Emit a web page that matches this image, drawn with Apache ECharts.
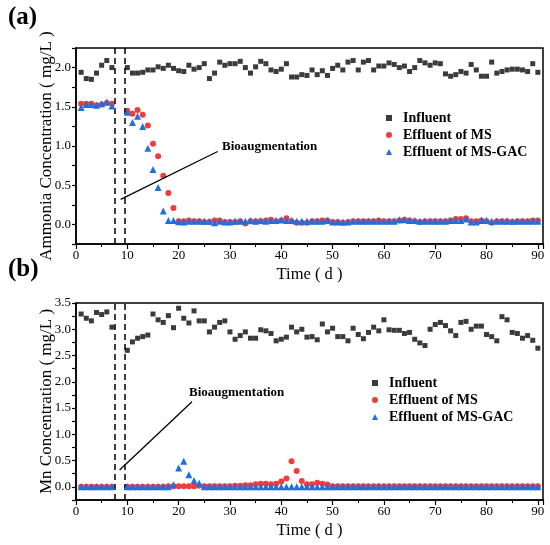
<!DOCTYPE html>
<html><head><meta charset="utf-8">
<script src="https://cdn.jsdelivr.net/npm/echarts@6/dist/echarts.min.js"></script>
<style>html,body{margin:0;padding:0;background:#fff}#c{width:550px;height:545px}</style>
</head><body><div id="c"></div>
<script>
var days = [1,2,3,4,5,6,7,10,11,12,13,14,15,16,17,18,19,20,21,22,23,24,25,26,27,28,29,30,31,32,33,34,35,36,37,38,39,40,41,42,43,44,45,46,47,48,49,50,51,52,53,54,55,56,57,58,59,60,61,62,63,64,65,66,67,68,69,70,71,72,73,74,75,76,77,78,79,80,81,82,83,84,85,86,87,88,89,90];

var nh4Influent = [1.94,1.86,1.85,1.93,2.03,2.09,2.00,
 2.00,1.93,1.93,1.94,1.97,1.97,2.01,1.99,2.03,1.99,1.96,1.95,2.03,1.98,2.00,2.05,1.86,1.93,2.07,2.03,2.05,2.05,2.08,2.00,1.93,2.01,2.08,2.05,1.97,
 1.95,1.98,2.05,1.88,1.88,1.91,1.90,1.97,1.91,1.96,1.90,1.99,2.03,1.97,2.07,2.09,1.97,2.07,2.09,1.97,2.02,2.02,2.06,2.04,2.00,2.02,1.95,2.00,2.09,2.06,2.03,2.06,2.05,1.92,1.89,1.91,1.95,1.93,2.04,1.97,1.89,1.89,2.07,1.93,1.95,1.97,1.98,1.98,1.97,1.95,2.05,1.94];
var nh4MS = [1.54,1.54,1.54,1.52,1.53,1.55,1.54,
 1.45,1.41,1.46,1.40,1.26,1.03,0.87,0.62,0.40,0.21,0.04,
 0.04,0.05,0.04,0.04,0.03,0.03,0.05,0.05,0.03,0.03,0.03,0.04,0.01,0.04,0.04,0.04,0.05,0.06,0.04,0.05,0.08,0.04,0.02,0.02,0.02,0.04,0.04,0.05,0.05,0.03,0.03,0.02,0.03,0.04,0.04,0.04,0.04,0.04,0.05,0.04,0.04,0.04,0.05,0.06,0.05,0.04,0.03,0.04,0.04,0.04,0.04,0.04,0.05,0.07,0.07,0.08,0.04,0.04,0.05,0.04,0.02,0.04,0.04,0.04,0.03,0.04,0.04,0.04,0.05,0.05];
var nh4GAC = [1.49,1.53,1.53,1.52,1.54,1.56,1.51,
 1.43,1.30,1.38,1.25,0.97,0.70,0.47,0.17,0.05,0.05,0.035,
 0.03,0.04,0.04,0.04,0.04,0.04,0.02,0.04,0.03,0.03,0.04,0.04,0.04,0.05,0.04,0.05,0.04,0.05,0.05,0.06,0.05,0.05,0.04,0.04,0.04,0.04,0.04,0.04,0.05,0.03,0.03,0.03,0.03,0.04,0.04,0.04,0.04,0.04,0.04,0.04,0.04,0.04,0.06,0.06,0.05,0.05,0.04,0.04,0.04,0.04,0.04,0.04,0.05,0.05,0.05,0.07,0.03,0.03,0.05,0.05,0.04,0.04,0.04,0.04,0.04,0.04,0.04,0.04,0.04,0.04];

var mnInfluent = [3.29,3.21,3.16,3.32,3.28,3.33,3.04,
 2.60,2.76,2.83,2.86,2.89,3.29,3.18,3.13,3.26,3.03,3.40,3.21,3.12,3.35,3.16,3.16,2.95,3.04,3.13,3.16,2.95,2.81,2.88,2.95,2.83,2.83,2.99,2.97,2.92,
 2.78,2.81,2.85,3.04,2.95,3.00,2.85,2.86,2.80,3.10,2.95,3.02,2.86,2.86,2.78,3.02,2.90,2.82,2.94,3.04,2.97,3.18,2.99,2.98,2.98,2.92,2.94,2.81,2.74,2.69,3.00,3.09,3.13,3.07,2.97,2.88,3.13,3.15,3.00,3.06,3.06,2.90,2.86,2.78,3.24,3.18,2.94,2.92,2.83,2.88,2.79,2.64];
var mnMS = [0,0,0,0,0,0,0,
 0,0,0,0,0,0,0,0,
 0.01,0.01,0.01,0.01,0.01,0.01,0.02,
 0.01,0.01,0.01,0.01,0.01,0.01,0.02,0.02,0.03,
 0.03,
 0.05,0.06,0.06,0.05,0.06,
 0.10,0.16,0.49,0.30,0.11,0.05,0.05,0.08,0.06,0.045,
 0.01,0.01,0.01,0.01,0.01,0.01,0.01,0.01,0.01,0.01,0.01,0.01,0.01,0.01,0.01,0.01,0.01,0.01,0.01,0.01,0.01,0.01,0.01,0.01,0.01,0.01,0.01,0.01,0.01,0.01,0.01,0.01,0.01,0.01,0.01,0.01,0.01,0.01,0.01,0.01,0.01];
var mnGAC = [0,0,0,0,0,0,0,
 0,0,0,0,0,0,0,0,0,
 0.04,0.36,0.49,0.23,0.12,0.07,
 0,0,0,0,0,0,0,0,0,0,0,0,0,0,0,0,0,0,0,0,0,0,0,0,0,0,0,0,0,0,0,0,0,0,0,0,0,0,0,0,0,0,0,0,0,0,0,0,0,0,0,0,0,0,0,0,0,0,0,0,0,0,0,0,0,0];

var xTicks = [0,10,20,30,40,50,60,70,80,90];
var nh4Ticks = [0.0,0.5,1.0,1.5,2.0];
var mnTicks = [0.0,0.5,1.0,1.5,2.0,2.5,3.0,3.5];
var names = ['Influent','Effluent of MS','Effluent of MS-GAC'];
var dashDays = [7.5, 9.5];

function pairs(v){ return days.map(function(d,i){ return [d, v[i]]; }); }

var FONT = 'Liberation Serif';
var colors = ['#3b3b3b','#f23c3c','#1f6fe0'];
var symbols = ['rect','circle','triangle'];
var sizes = [5,6,7];

function xAxisDef(gi){
  return {type:'value', gridIndex:gi, min:0, max:91, interval:10,
    name:'Time ( d )', nameLocation:'middle', nameGap:22, nameMoveOverlap:false,
    nameTextStyle:{fontFamily:FONT, fontSize:16.5, color:'#000'},
    axisLine:{show:true, onZero:false, lineStyle:{color:'#000', width:1.5}},
    axisTick:{show:true, length:5, lineStyle:{color:'#000', width:1.2}},
    minorTick:{show:true, splitNumber:2, length:3, lineStyle:{color:'#000', width:1}},
    axisLabel:{fontFamily:FONT, fontSize:13, color:'#000', margin:5,
      formatter:function(v){ return xTicks.indexOf(v)>=0 ? String(v) : ''; }},
    splitLine:{show:false}};
}
function yAxisDef(gi, max, ticks, name){
  return {type:'value', gridIndex:gi, min:-0.25, max:max, interval:0.25,
    name:name, nameLocation:'middle', nameGap:21, nameMoveOverlap:false,
    nameTextStyle:{fontFamily:FONT, fontSize:17, color:'#000'},
    axisLine:{show:true, onZero:false, lineStyle:{color:'#000', width:1.5}},
    axisTick:{show:true, length:4, lineStyle:{color:'#000', width:1.2}},
    axisLabel:{fontFamily:FONT, fontSize:13, color:'#000', margin:5,
      formatter:function(v){
        for (var i=0;i<ticks.length;i++){ if (Math.abs(ticks[i]-v)<1e-6) return v.toFixed(1); }
        return ''; }},
    splitLine:{show:false}};
}

var panels = [[nh4Influent,nh4MS,nh4GAC],[mnInfluent,mnMS,mnGAC]];
var annot = [[[8.7,0.32],[27.6,0.93]],[[8.5,0.32],[22.6,1.62]]];
var series = [];
panels.forEach(function(p, gi){
  p.forEach(function(v, si){
    var s = {type:'scatter', name:names[si], xAxisIndex:gi, yAxisIndex:gi,
      data:pairs(v), symbol:symbols[si], symbolSize:sizes[si],
      itemStyle:{color:colors[si], opacity:1}, z:3+ (si===1?1:(si===2?2:0))};
    if (si===0){
      s.markLine = {silent:true, symbol:['none','none'], animation:false,
        label:{show:false},
        data:[
          {xAxis:dashDays[0], lineStyle:{type:[6,4], color:'#000', width:1.5}},
          {xAxis:dashDays[1], lineStyle:{type:[6,4], color:'#000', width:1.5}},
          [{coord:annot[gi][0], lineStyle:{type:'solid', color:'#000', width:1.3}},{coord:annot[gi][1]}]
        ]};
    }
    series.push(s);
  });
});

var legendCommon = {orient:'vertical', data:names, itemWidth:6, itemHeight:6, itemGap:3,
  textStyle:{fontFamily:FONT, fontSize:14, fontWeight:'bold', color:'#000', padding:[0,0,0,6]},
  selectedMode:false};

var chart = echarts.init(document.getElementById('c'), null, {renderer:'canvas'});
chart.setOption({
  animation:false,
  backgroundColor:'#fff',
  grid:[
    {left:76, right:7, top:48, height:196, show:true, borderColor:'#000', borderWidth:1.5, backgroundColor:'transparent'},
    {left:76, right:7, top:303, height:197, show:true, borderColor:'#000', borderWidth:1.5, backgroundColor:'transparent'}
  ],
  xAxis:[xAxisDef(0), xAxisDef(1)],
  yAxis:[yAxisDef(0, 2.25, nh4Ticks, 'Ammonia Concentration ( mg/L )'),
         yAxisDef(1, 3.5, mnTicks, 'Mn Concentration ( mg/L )')],
  legend:[
    Object.assign({left:381, top:106}, legendCommon),
    Object.assign({left:367, top:371}, legendCommon)
  ],
  graphic:[
    {type:'text', left:8, top:5, style:{text:'(a)', font:'bold 25px "Liberation Serif"', fill:'#000'}},
    {type:'text', left:8, top:257, style:{text:'(b)', font:'bold 25px "Liberation Serif"', fill:'#000'}},
    {type:'text', left:222, top:140, style:{text:'Bioaugmentation', font:'bold 13px "Liberation Serif"', fill:'#000'}},
    {type:'text', left:189, top:386, style:{text:'Bioaugmentation', font:'bold 13px "Liberation Serif"', fill:'#000'}}
  ],
  series:series
});
</script></body></html>
